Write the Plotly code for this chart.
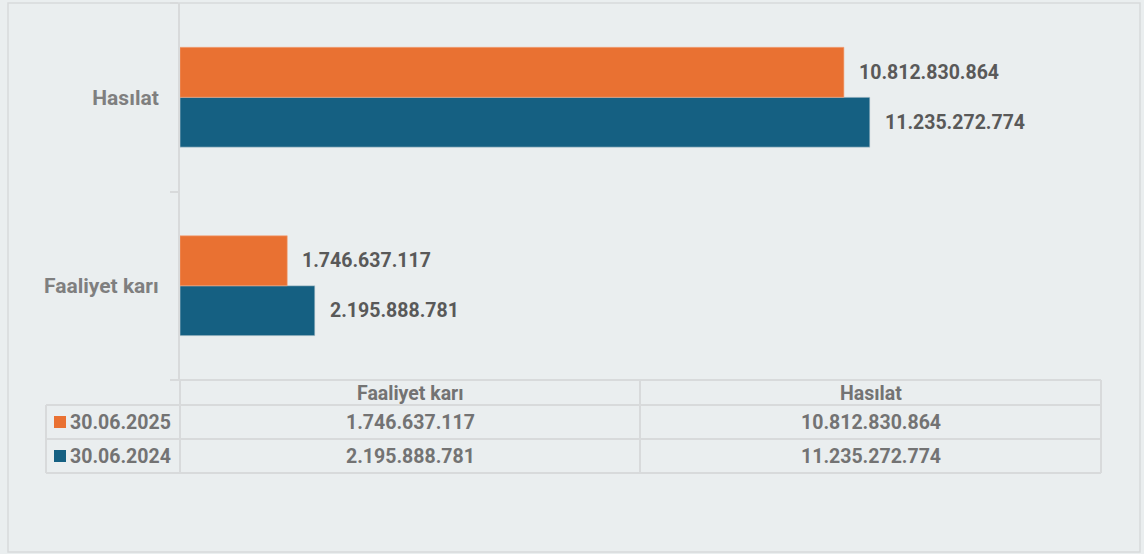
import plotly.graph_objects as go

# ---- data ----
categories = ["Faaliyet karı", "Hasılat"]
series_names = ["30.06.2025", "30.06.2024"]
values_2025 = [1746637117, 10812830864]
values_2024 = [2195888781, 11235272774]
colors = {"30.06.2025": "#E97132", "30.06.2024": "#156082"}

BG = "#EAEEEF"
LINE = "#D8DADB"
W, H = 1144, 554
L, R, T, B = 180, 43, 3, 174
PW, PH = W - L - R, H - T - B
FONT = "Roboto"


def fmt(v):
    return f"{v:,}".replace(",", ".")


def px(x):
    return (x - L) / PW


def py(y):
    return (H - B - y) / PH


fig = go.Figure()
# first trace is drawn lowest in the group
fig.add_trace(go.Bar(y=categories, x=values_2024, orientation="h",
                     name=series_names[1], marker_color=colors[series_names[1]],
                     marker_line=dict(color="#C9D3D8", width=0.6)))
fig.add_trace(go.Bar(y=categories, x=values_2025, orientation="h",
                     name=series_names[0], marker_color=colors[series_names[0]],
                     marker_line=dict(color="#F2A47C", width=0.6)))

annotations = []
# data labels
for vals, shift in ((values_2025, 25), (values_2024, -25)):
    for c, v in zip(categories, vals):
        annotations.append(dict(x=v, y=c, xref="x", yref="y", text=fmt(v),
                                showarrow=False, xanchor="left", yanchor="middle",
                                xshift=13, yshift=shift,
                                font=dict(family=FONT, size=19.5, color="#595959", weight="bold")))

shapes = []
# outer border
shapes.append(dict(type="rect", xref="paper", yref="paper", x0=px(8), x1=px(1140),
                   y0=py(552), y1=py(3), line=dict(color=LINE, width=1.5), layer="below"))

# data table
tx0, tx_mid, tx1 = 180, 640, 1101
lx0 = 46
ry = [380, 405, 439, 473]
line = dict(color=LINE, width=2)
shapes.append(dict(type="line", xref="paper", yref="paper", x0=px(173), x1=px(tx1),
                   y0=py(ry[0]), y1=py(ry[0]), line=line))
for yy in ry[1:]:
    shapes.append(dict(type="line", xref="paper", yref="paper", x0=px(lx0), x1=px(tx1),
                       y0=py(yy), y1=py(yy), line=line))
shapes.append(dict(type="line", xref="paper", yref="paper", x0=px(lx0), x1=px(lx0),
                   y0=py(ry[1]), y1=py(ry[3]), line=line))
for xx in (tx0, tx_mid, tx1):
    shapes.append(dict(type="line", xref="paper", yref="paper", x0=px(xx), x1=px(xx),
                       y0=py(ry[0]), y1=py(ry[3]), line=line))

tfont = dict(family=FONT, size=19.5, color="#737373", weight="bold")
col_centers = [(tx0 + tx_mid) / 2, (tx_mid + tx1) / 2]
for c, xc in zip(categories, col_centers):
    annotations.append(dict(x=px(xc), y=py((ry[0] + ry[1]) / 2 + 1), xref="paper", yref="paper",
                            text=c, showarrow=False, xanchor="center", yanchor="middle", font=tfont))
rows = [(series_names[0], values_2025), (series_names[1], values_2024)]
for i, (name, vals) in enumerate(rows):
    yc = (ry[i + 1] + ry[i + 2]) / 2
    shapes.append(dict(type="rect", xref="paper", yref="paper", x0=px(54), x1=px(66),
                       y0=py(yc - 6), y1=py(yc + 6), fillcolor=colors[name], line=dict(width=0)))
    annotations.append(dict(x=px(68), y=py(yc), xref="paper", yref="paper", text=name,
                            showarrow=False, xanchor="left", yanchor="middle", font=tfont))
    for v, xc in zip(vals, col_centers):
        annotations.append(dict(x=px(xc), y=py(yc), xref="paper", yref="paper", text=fmt(v),
                                showarrow=False, xanchor="center", yanchor="middle", font=tfont))

fig.update_layout(
    width=W, height=H, autosize=False,
    margin=dict(l=L, r=R, t=T, b=B, pad=0),
    paper_bgcolor=BG, plot_bgcolor=BG,
    barmode="group", bargap=0.47, bargroupgap=0,
    showlegend=False,
    separators=",.",
    xaxis=dict(visible=False, range=[0, 15e9], showgrid=False, zeroline=False),
    yaxis=dict(type="category", categoryarray=categories, showline=True, linecolor=LINE, linewidth=2,
               ticks="outside", ticklen=8, tickcolor=LINE, tickwidth=2, tickson="boundaries",
               ticklabelstandoff=15, showgrid=False, zeroline=False,
               tickfont=dict(family=FONT, size=21, color="#7F7F7F", weight="bold")),
    shapes=shapes, annotations=annotations,
)

fig.write_html("out.html", post_script="document.body.style.margin='0';",
               config={"displayModeBar": False})
